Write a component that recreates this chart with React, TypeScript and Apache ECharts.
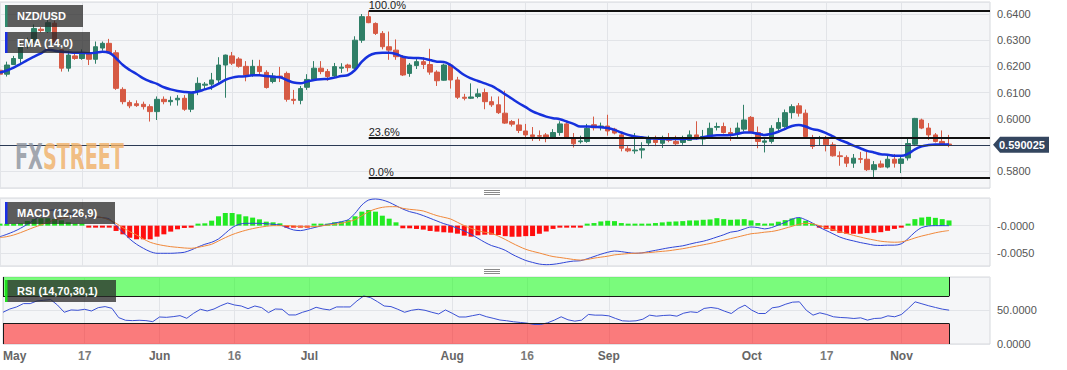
import React, { useEffect, useRef } from 'react';
import * as echarts from 'echarts';

// ---------- data ----------
const FIRST_DAY = '2023-05-01';
const DAY_COUNT = 146; // 140 trading days shown + 6 empty slots on the right

const tickDates = ['2023-05-01', '2023-05-17', '2023-06-01', '2023-06-16', '2023-07-03', '2023-08-01', '2023-08-16', '2023-09-01', '2023-10-02', '2023-10-17', '2023-11-01'];
const tickLabels = ['May', '17', 'Jun', '16', 'Jul', 'Aug', '16', 'Sep', 'Oct', '17', 'Nov'];

// [open, high, low, close]
const candles: number[][] = [
  [0.6185, 0.6192, 0.6163, 0.6170], [0.6170, 0.6218, 0.6161, 0.6205], [0.6207, 0.6240, 0.6205, 0.6230], [0.6230, 0.6294, 0.6205, 0.6275], [0.6275, 0.6310, 0.6268, 0.6300],
  [0.6300, 0.6360, 0.6290, 0.6345], [0.6342, 0.6350, 0.6330, 0.6337], [0.6333, 0.6380, 0.6328, 0.6367], [0.6365, 0.6375, 0.6285, 0.6290], [0.6263, 0.6275, 0.6180, 0.6193],
  [0.6193, 0.6260, 0.6180, 0.6243], [0.6240, 0.6255, 0.6225, 0.6230], [0.6230, 0.6265, 0.6225, 0.6247], [0.6250, 0.6255, 0.6205, 0.6227], [0.6227, 0.6295, 0.6210, 0.6275],
  [0.6270, 0.6295, 0.6260, 0.6288], [0.6288, 0.6305, 0.6250, 0.6252], [0.6252, 0.6262, 0.6110, 0.6116], [0.6112, 0.6120, 0.6055, 0.6065], [0.6062, 0.6070, 0.6040, 0.6049],
  [0.6057, 0.6070, 0.6045, 0.6050], [0.6055, 0.6065, 0.6035, 0.6046], [0.6046, 0.6055, 0.5989, 0.6027], [0.6027, 0.6085, 0.5995, 0.6074], [0.6074, 0.6085, 0.6055, 0.6065],
  [0.6065, 0.6085, 0.6050, 0.6070], [0.6072, 0.6090, 0.6050, 0.6078], [0.6078, 0.6090, 0.6030, 0.6036], [0.6036, 0.6100, 0.6025, 0.6097], [0.6104, 0.6158, 0.6090, 0.6135],
  [0.6128, 0.6140, 0.6110, 0.6132], [0.6132, 0.6175, 0.6110, 0.6148], [0.6148, 0.6235, 0.6135, 0.6205], [0.6205, 0.6245, 0.6080, 0.6243], [0.6240, 0.6255, 0.6205, 0.6212],
  [0.6228, 0.6235, 0.6195, 0.6200], [0.6200, 0.6220, 0.6143, 0.6167], [0.6167, 0.6225, 0.6160, 0.6200], [0.6200, 0.6225, 0.6170, 0.6180], [0.6177, 0.6185, 0.6115, 0.6119],
  [0.6142, 0.6175, 0.6135, 0.6163], [0.6163, 0.6198, 0.6140, 0.6158], [0.6173, 0.6180, 0.6065, 0.6074], [0.6074, 0.6110, 0.6055, 0.6070], [0.6070, 0.6125, 0.6055, 0.6115],
  [0.6120, 0.6170, 0.6110, 0.6150], [0.6150, 0.6220, 0.6145, 0.6193], [0.6193, 0.6220, 0.6170, 0.6180], [0.6180, 0.6190, 0.6145, 0.6161], [0.6163, 0.6213, 0.6155, 0.6199],
  [0.6193, 0.6212, 0.6175, 0.6197], [0.6205, 0.6210, 0.6180, 0.6195], [0.6193, 0.6315, 0.6185, 0.6300], [0.6300, 0.6400, 0.6290, 0.6390], [0.6390, 0.6411, 0.6365, 0.6367],
  [0.6364, 0.6368, 0.6320, 0.6326], [0.6326, 0.6335, 0.6265, 0.6275], [0.6275, 0.6333, 0.6225, 0.6262], [0.6262, 0.6303, 0.6225, 0.6237], [0.6235, 0.6243, 0.6163, 0.6167],
  [0.6173, 0.6213, 0.6160, 0.6205], [0.6203, 0.6228, 0.6190, 0.6218], [0.6218, 0.6235, 0.6190, 0.6207], [0.6207, 0.6267, 0.6168, 0.6178], [0.6178, 0.6185, 0.6125, 0.6145],
  [0.6147, 0.6210, 0.6145, 0.6205], [0.6205, 0.6210, 0.6115, 0.6148], [0.6148, 0.6160, 0.6075, 0.6082], [0.6082, 0.6095, 0.6070, 0.6078], [0.6078, 0.6135, 0.6075, 0.6083],
  [0.6085, 0.6115, 0.6078, 0.6095], [0.6100, 0.6115, 0.6036, 0.6065], [0.6065, 0.6085, 0.6045, 0.6053], [0.6053, 0.6085, 0.6018, 0.6023], [0.6021, 0.6107, 0.5980, 0.5983],
  [0.5989, 0.5995, 0.5970, 0.5979], [0.5976, 0.6000, 0.5945, 0.5955], [0.5953, 0.5980, 0.5930, 0.5938], [0.5938, 0.5968, 0.5915, 0.5932], [0.5935, 0.5955, 0.5915, 0.5933],
  [0.5938, 0.5945, 0.5910, 0.5930], [0.5930, 0.5960, 0.5925, 0.5947], [0.5947, 0.5990, 0.5935, 0.5980], [0.5980, 0.5985, 0.5925, 0.5930], [0.5926, 0.5945, 0.5890, 0.5904],
  [0.5912, 0.5935, 0.5905, 0.5915], [0.5913, 0.5980, 0.5908, 0.5963], [0.5977, 0.6008, 0.5955, 0.5965], [0.5968, 0.5985, 0.5955, 0.5972], [0.5972, 0.6015, 0.5935, 0.5953],
  [0.5960, 0.5965, 0.5940, 0.5945], [0.5938, 0.5945, 0.5875, 0.5887], [0.5885, 0.5895, 0.5872, 0.5877], [0.5877, 0.5945, 0.5866, 0.5880], [0.5880, 0.5910, 0.5848, 0.5885],
  [0.5907, 0.5935, 0.5895, 0.5925], [0.5919, 0.5935, 0.5895, 0.5909], [0.5906, 0.5935, 0.5888, 0.5922], [0.5922, 0.5945, 0.5910, 0.5917], [0.5913, 0.5935, 0.5897, 0.5904],
  [0.5909, 0.5935, 0.5900, 0.5919], [0.5917, 0.5955, 0.5915, 0.5938], [0.5938, 0.5990, 0.5919, 0.5930], [0.5922, 0.5957, 0.5900, 0.5932], [0.5934, 0.5985, 0.5930, 0.5963],
  [0.5967, 0.5985, 0.5955, 0.5970], [0.5970, 0.5985, 0.5943, 0.5947], [0.5947, 0.5965, 0.5915, 0.5938], [0.5944, 0.5985, 0.5930, 0.5964], [0.5960, 0.6053, 0.5951, 0.5995],
  [0.6005, 0.6010, 0.5945, 0.5951], [0.5947, 0.5970, 0.5887, 0.5913], [0.5910, 0.5925, 0.5871, 0.5915], [0.5913, 0.5975, 0.5905, 0.5963], [0.5963, 0.6003, 0.5950, 0.5985],
  [0.5970, 0.6035, 0.5965, 0.6023], [0.6023, 0.6055, 0.6000, 0.6046], [0.6049, 0.6060, 0.6008, 0.6021], [0.6021, 0.6035, 0.5928, 0.5932], [0.5925, 0.5938, 0.5884, 0.5894],
  [0.5924, 0.5934, 0.5896, 0.5926], [0.5925, 0.5934, 0.5875, 0.5900], [0.5900, 0.5910, 0.5855, 0.5858], [0.5858, 0.5875, 0.5820, 0.5855], [0.5852, 0.5860, 0.5815, 0.5830],
  [0.5830, 0.5865, 0.5812, 0.5849], [0.5847, 0.5873, 0.5830, 0.5845], [0.5845, 0.5875, 0.5800, 0.5805], [0.5805, 0.5838, 0.5775, 0.5824], [0.5827, 0.5840, 0.5812, 0.5815],
  [0.5815, 0.5862, 0.5810, 0.5845], [0.5845, 0.5865, 0.5813, 0.5830], [0.5829, 0.5858, 0.5792, 0.5846], [0.5850, 0.5925, 0.5840, 0.5905], [0.5902, 0.6003, 0.5895, 0.6001],
  [0.5995, 0.6000, 0.5960, 0.5964], [0.5964, 0.5983, 0.5919, 0.5938], [0.5938, 0.5945, 0.5909, 0.5913], [0.5913, 0.5955, 0.5904, 0.5904], [0.5903, 0.5938, 0.5891, 0.590025],
];

const ema14 = [
  0.6176, 0.6184, 0.6195, 0.6209, 0.6224, 0.6237, 0.6250, 0.6263, 0.6260, 0.6256,
  0.6254, 0.6252, 0.6252, 0.6250, 0.6252, 0.6256, 0.6252, 0.6231, 0.6205, 0.6186,
  0.6171, 0.6154, 0.6142, 0.6133, 0.6120, 0.6112, 0.6106, 0.6102, 0.6100, 0.6104,
  0.6112, 0.6120, 0.6133, 0.6148, 0.6157, 0.6161, 0.6162, 0.6166, 0.6166, 0.6163,
  0.6160, 0.6158, 0.6148, 0.6138, 0.6135, 0.6142, 0.6148, 0.6151, 0.6152, 0.6157,
  0.6163, 0.6167, 0.6186, 0.6218, 0.6240, 0.6250, 0.6252, 0.6252, 0.6247, 0.6237,
  0.6233, 0.6232, 0.6230, 0.6224, 0.6218, 0.6217, 0.6205, 0.6186, 0.6167, 0.6154,
  0.6144, 0.6135, 0.6125, 0.6110, 0.6093, 0.6076, 0.6059, 0.6044, 0.6028, 0.6017,
  0.6008, 0.6002, 0.5998, 0.5989, 0.5980, 0.5970, 0.5970, 0.5969, 0.5967, 0.5964,
  0.5957, 0.5947, 0.5938, 0.5932, 0.5929, 0.5925, 0.5924, 0.5923, 0.5922, 0.5922,
  0.5922, 0.5924, 0.5924, 0.5929, 0.5934, 0.5937, 0.5937, 0.5938, 0.5942, 0.5947,
  0.5947, 0.5942, 0.5938, 0.5942, 0.5950, 0.5961, 0.5972, 0.5976, 0.5970, 0.5960,
  0.5955, 0.5945, 0.5932, 0.5919, 0.5909, 0.5897, 0.5887, 0.5877, 0.5871, 0.5864,
  0.5862, 0.5858, 0.5858, 0.5866, 0.5883, 0.5894, 0.5899, 0.5901, 0.5901, 0.5901,
];

const macdLine = [
  -0.00199, -0.00157, -0.00108, -0.00048, 0.00024, 0.00102, 0.00193, 0.00271, 0.00283, 0.00253,
  0.00223, 0.00193, 0.00175, 0.00163, 0.00157, 0.00145, 0.0012, 0, -0.0012, -0.00241,
  -0.00337, -0.0041, -0.0047, -0.005, -0.005, -0.005, -0.00494, -0.00482, -0.0044, -0.00386,
  -0.00337, -0.00301, -0.00241, -0.00139, -0.00036, 0.00024, 0.00042, 0.00042, 0.00042, 0.00036,
  0.00024, 0.00012, -0.00036, -0.00078, -0.0009, -0.00066, -0.00036, -0.00006, 0.00024, 0.00048,
  0.00072, 0.00108, 0.00223, 0.00373, 0.00464, 0.00482, 0.00464, 0.00422, 0.00361, 0.00301,
  0.00253, 0.00223, 0.00181, 0.00133, 0.00084, 0.00036, 0, -0.00048, -0.00096, -0.00157,
  -0.00229, -0.00301, -0.00361, -0.00398, -0.00446, -0.00518, -0.00577, -0.0063, -0.00665, -0.00695,
  -0.00706, -0.007, -0.00682, -0.00659, -0.00641, -0.00635, -0.006, -0.00559, -0.00517, -0.00482,
  -0.00459, -0.0047, -0.00488, -0.005, -0.00494, -0.0047, -0.00447, -0.00423, -0.004, -0.00382,
  -0.00365, -0.00335, -0.00306, -0.00282, -0.00247, -0.00206, -0.00165, -0.00118, -0.001, -0.00059,
  -0.00024, -0.00035, -0.00059, -0.00035, 0.00012, 0.00059, 0.00118, 0.00147, 0.00106, 0.00047,
  -0.00029, -0.00088, -0.00147, -0.00206, -0.00247, -0.00276, -0.00306, -0.00329, -0.00353, -0.00359,
  -0.00353, -0.00353, -0.00329, -0.00235, -0.00118, -0.00035, -0.00006, 0, 0, 0,
];

const signalLine = [
  -0.00217, -0.00199, -0.00169, -0.00127, -0.00078, -0.0003, 0.00012, 0.0006, 0.00102, 0.00133,
  0.00157, 0.00175, 0.00181, 0.00175, 0.00163, 0.00145, 0.00102, 0.00042, -0.00036, -0.00108,
  -0.00169, -0.00241, -0.00301, -0.00337, -0.00361, -0.0038, -0.00392, -0.00404, -0.0041, -0.00392,
  -0.00367, -0.00337, -0.00277, -0.00217, -0.00163, -0.0012, -0.00084, -0.00054, -0.0003, -0.00012,
  0, 0, 0, -0.00006, -0.00018, -0.00018, -0.00018, -0.00006, 0.00012, 0.00024,
  0.00042, 0.00072, 0.00108, 0.0018, 0.00253, 0.00301, 0.00331, 0.00343, 0.00343, 0.00313,
  0.00295, 0.00283, 0.00265, 0.00223, 0.00181, 0.00151, 0.0012, 0.0006, 0, -0.00048,
  -0.0009, -0.0012, -0.00139, -0.0019, -0.0025, -0.00315, -0.00375, -0.00428, -0.00465, -0.00495,
  -0.00529, -0.00559, -0.00576, -0.00594, -0.00612, -0.00623, -0.00612, -0.00588, -0.0057, -0.00553,
  -0.00529, -0.00517, -0.00506, -0.005, -0.00494, -0.00488, -0.00476, -0.00465, -0.00453, -0.00435,
  -0.00417, -0.00394, -0.0037, -0.00347, -0.00323, -0.00294, -0.00265, -0.00235, -0.00206, -0.00176,
  -0.00147, -0.00135, -0.00118, -0.00106, -0.00082, -0.00047, -0.00012, 0.00024, 0.00041, 0.00035,
  0, -0.00035, -0.00071, -0.00106, -0.00141, -0.00176, -0.00206, -0.00235, -0.00259, -0.00282,
  -0.00294, -0.003, -0.00294, -0.00265, -0.00223, -0.00188, -0.00159, -0.00129, -0.00106, -0.00088,
];

const macdHist = [
  0, 0.00024, 0.00024, 0.00042, 0.00084, 0.0012, 0.00133, 0.00133, 0.0012, 0.00096,
  0.0006, 0.00024, 0, -0.00012, -0.00006, -0.00006, -0.00006, -0.00096, -0.00157, -0.00217,
  -0.00247, -0.00247, -0.00247, -0.00199, -0.00157, -0.00108, -0.00066, -0.00042, -0.00018, 0.00024,
  0.00042, 0.0009, 0.00169, 0.00229, 0.00229, 0.00205, 0.00169, 0.00145, 0.00114, 0.00072,
  0.0006, 0.00042, -0.00024, -0.00036, -0.0003, -0.00012, 0.00012, 0.00024, 0.00036, 0.0006,
  0.00072, 0.001, 0.00169, 0.00253, 0.00283, 0.00253, 0.0018, 0.00126, 0.0006, -0.00048,
  -0.00048, -0.0006, -0.00072, -0.00096, -0.00108, -0.0012, -0.00127, -0.00145, -0.00181, -0.002,
  -0.00175, -0.00163, -0.00163, -0.00169, -0.0019, -0.002, -0.002, -0.0019, -0.00188, -0.00147,
  -0.00106, -0.00059, -0.00018, -0.00018, -0.00012, -0.00012, 0.0003, 0.00047, 0.00076, 0.00088,
  0.00082, 0.00047, 0.00012, 0.00006, 0.00012, 0.00035, 0.00047, 0.00059, 0.00071, 0.00076,
  0.00082, 0.00094, 0.00094, 0.00106, 0.00112, 0.00135, 0.00118, 0.00106, 0.00112, 0.00118,
  0.00094, 0.00047, 0.0003, 0.00041, 0.00071, 0.001, 0.00129, 0.00141, 0.00088, 0.00012,
  -0.00029, -0.00059, -0.00094, -0.00129, -0.00147, -0.00147, -0.00147, -0.00135, -0.00129, -0.00118,
  -0.00094, -0.00059, -0.00035, 0.00018, 0.00118, 0.00147, 0.00159, 0.00141, 0.00118, 0.00094,
];

const rsi14 = [
  46.4, 51.2, 54.2, 59.1, 59.1, 63, 64, 65, 57, 46.4,
  49.8, 49.3, 50.8, 48.3, 53.2, 54.7, 52.2, 38.6, 34.7, 34.2,
  34.7, 34.2, 32.7, 39.5, 39, 40, 41.5, 37.6, 44.9, 50.8,
  48.3, 51.2, 56.1, 60, 57.1, 55.6, 51.7, 55.6, 53.2, 45.9,
  51.2, 50.8, 42.5, 42.5, 46.4, 49.3, 53.7, 51.2, 49.8, 54.2,
  54.2, 54.2, 63, 70.3, 67.8, 62, 55.6, 54.7, 50.8, 46.4,
  49.3, 50.8, 49.3, 46.4, 43.9, 49.8, 44.9, 39.5, 39.5, 41.5,
  43.4, 40, 37.6, 35.1, 34, 32.5, 31.5, 30.5, 28.5, 28.5,
  31, 34.9, 39.8, 35.4, 33.4, 34.9, 43.2, 42.2, 42.2, 41.2,
  37.3, 33.9, 33.4, 33.9, 36.3, 42.2, 40.7, 41.7, 42.2, 40.7,
  45.1, 47.1, 46.1, 52, 53.4, 52, 48, 44.6, 52, 56.8,
  49.5, 44.6, 44.6, 52.9, 54.4, 58.3, 61.2, 61.7, 49.5, 42.2,
  45.6, 43.2, 39.8, 38.8, 38.3, 37.3, 38.3, 34.9, 37.3, 37.8,
  41.2, 39.8, 43.2, 52, 61.7, 58.8, 55.9, 53.4, 51, 49.5,
];

const fibLevels = [0.6411, 0.5926, 0.5775];
const fibLabels = ['100.0%', '23.6%', '0.0%'];
const fibStartDate = '2023-07-14';
const lastPrice = 0.590025;
const rsiBands = { upper: 70, lower: 30, top: 98, bottom: 0 };

// ---------- helpers ----------
function buildWeekdays(start: string, count: number): string[] {
  const out: string[] = [];
  const d = new Date(start + 'T00:00:00Z');
  while (out.length < count) {
    const wd = d.getUTCDay();
    if (wd !== 0 && wd !== 6) out.push(d.toISOString().slice(0, 10));
    d.setUTCDate(d.getUTCDate() + 1);
  }
  return out;
}

function measure(text: string, font: string): number {
  const ctx = document.createElement('canvas').getContext('2d');
  if (!ctx) return text.length * 20;
  ctx.font = font;
  return ctx.measureText(text).width;
}

const FONT = 'Arial, "Liberation Sans", sans-serif';
const GREEN = '#2f7f67';
const RED = '#d65a44';

export default function App() {
  const ref = useRef<HTMLDivElement>(null);

  useEffect(() => {
    if (!ref.current) return;
    const chart = echarts.init(ref.current, null, { renderer: 'svg', width: 1067, height: 370 });
    const categories = buildWeekdays(FIRST_DAY, DAY_COUNT);
    const lastIdx = candles.length - 1;
    const cFirst = categories[0];
    const cLast = categories[lastIdx];
    const cEnd = categories[categories.length - 1];
    const tickSet = new Set(tickDates);
    const labelOf: Record<string, string> = {};
    tickDates.forEach((d, k) => (labelOf[d] = tickLabels[k]));

    const gridStyle = { show: true, backgroundColor: '#f5f6f8', borderColor: '#d6d9dd', borderWidth: 1, left: 0, width: 990 };
    const grids = [
      { ...gridStyle, top: 2, height: 186 },
      { ...gridStyle, top: 198, height: 68 },
      { ...gridStyle, top: 277, height: 67 },
    ];

    const xAxes = [0, 1, 2].map((g) => ({
      type: 'category',
      gridIndex: g,
      data: categories,
      boundaryGap: false,
      axisLine: { show: false },
      axisTick: { show: false },
      splitLine: { show: true, interval: (_i: number, v: string) => tickSet.has(v), lineStyle: { color: '#e2e4e8', width: 1 } },
      axisLabel: g === 2
        ? {
            show: true,
            interval: (_i: number, v: string) => tickSet.has(v),
            formatter: (v: string) => {
              const t = labelOf[v] || '';
              return /^[A-Za-z]/.test(t) ? `{m|${t}}` : `{d|${t}}`;
            },
            alignMinLabel: 'left',
            margin: 6,
            rich: {
              m: { fontWeight: 'bold', fontSize: 12, color: '#666', fontFamily: FONT },
              d: { fontWeight: 'bold', fontSize: 12, color: '#7a7a7a', fontFamily: FONT },
            },
          }
        : { show: false },
    }));

    const yLabel = { color: '#555', fontSize: 11, fontFamily: FONT, margin: 7, showMinLabel: false, showMaxLabel: false };
    const yAxes = [
      {
        type: 'value', gridIndex: 0, position: 'right', min: 0.5735, max: 0.6446, splitNumber: 7,
        axisLine: { show: false }, axisTick: { show: false },
        // the label next to the last-price tag is covered by the tag, as in the original
        axisLabel: { ...yLabel, formatter: (v: number) => (Math.abs(v - lastPrice) < 0.003 ? '' : v.toFixed(4)) },
        splitLine: { lineStyle: { color: '#e2e4e8' } },
      },
      {
        type: 'value', gridIndex: 1, position: 'right', min: -0.0073, max: 0.005, splitNumber: 2,
        axisLine: { show: false }, axisTick: { show: false },
        axisLabel: { ...yLabel, formatter: (v: number) => (v <= 0 ? '-' : '') + Math.abs(v).toFixed(4) },
        splitLine: { lineStyle: { color: '#e2e4e8' } },
      },
      {
        type: 'value', gridIndex: 2, position: 'right', min: rsiBands.bottom, max: rsiBands.top, interval: 50,
        axisLine: { show: false }, axisTick: { show: false },
        axisLabel: { ...yLabel, showMinLabel: true, formatter: (v: number) => v.toFixed(4) },
        splitLine: { lineStyle: { color: '#e2e4e8' } },
      },
    ];

    const option: any = {
      animation: false,
      backgroundColor: '#ffffff',
      textStyle: { fontFamily: FONT },
      grid: grids,
      xAxis: xAxes,
      yAxis: yAxes,
      series: [
        {
          type: 'candlestick', name: 'NZD/USD', xAxisIndex: 0, yAxisIndex: 0,
          data: candles.map(([o, h, l, c]) => [o, c, l, h]),
          barWidth: 5,
          itemStyle: { color: GREEN, color0: RED, borderColor: GREEN, borderColor0: RED, borderWidth: 1 },
          markLine: {
            silent: true, symbol: ['none', 'none'], animation: false,
            data: [
              ...fibLevels.map((v, k) => [
                {
                  coord: [fibStartDate, v],
                  lineStyle: { color: '#111', width: 2, type: 'solid' },
                  label: { show: true, position: 'insideStartTop', formatter: fibLabels[k], color: '#222', fontSize: 11, lineHeight: 10, fontFamily: FONT, distance: [0, 1] },
                },
                { coord: [cEnd, v] },
              ]),
              { yAxis: lastPrice, lineStyle: { color: '#2b3a55', width: 1, type: 'solid' }, label: { show: false } },
            ],
          },
        },
        {
          type: 'line', name: 'EMA (14,0)', xAxisIndex: 0, yAxisIndex: 0, data: ema14,
          symbol: 'none', smooth: 0.4, lineStyle: { color: '#1631dd', width: 2.5 }, z: 3,
        },
        {
          type: 'bar', name: 'hist', xAxisIndex: 1, yAxisIndex: 1, barWidth: 5, barMinHeight: 2,
          data: macdHist.map((v) => ({ value: v, itemStyle: { color: v >= 0 ? '#22ea22' : '#ff0e0e' } })),
        },
        {
          type: 'line', name: 'MACD', xAxisIndex: 1, yAxisIndex: 1, data: macdLine,
          symbol: 'none', smooth: 0.3, lineStyle: { color: '#2f45d6', width: 1 }, z: 3,
        },
        {
          type: 'line', name: 'Signal', xAxisIndex: 1, yAxisIndex: 1, data: signalLine,
          symbol: 'none', smooth: 0.3, lineStyle: { color: '#f0883a', width: 1 }, z: 3,
        },
        {
          type: 'line', name: 'RSI', xAxisIndex: 2, yAxisIndex: 2, data: rsi14,
          symbol: 'none', lineStyle: { color: '#3a50d4', width: 1 }, z: 2,
        },
        {
          type: 'line', name: 'bands', xAxisIndex: 2, yAxisIndex: 2, data: rsi14,
          symbol: 'none', lineStyle: { opacity: 0 }, z: 4, silent: true,
          markArea: {
            silent: true,
            data: [
              [{ coord: [cFirst, rsiBands.upper], itemStyle: { color: 'rgba(0,255,0,0.5)' } }, { coord: [cLast, rsiBands.top] }],
              [{ coord: [cFirst, rsiBands.bottom], itemStyle: { color: 'rgba(255,0,0,0.5)' } }, { coord: [cLast, rsiBands.lower] }],
            ],
          },
          markLine: {
            silent: true, symbol: ['none', 'none'],
            lineStyle: { color: '#1a1a1a', width: 1, type: 'solid' },
            label: { show: false },
            data: [
              [{ coord: [cFirst, rsiBands.upper] }, { coord: [cLast, rsiBands.upper] }],
              [{ coord: [cFirst, rsiBands.lower] }, { coord: [cLast, rsiBands.lower] }],
              [{ coord: [cLast, rsiBands.upper] }, { coord: [cLast, rsiBands.top] }],
              [{ coord: [cLast, rsiBands.bottom] }, { coord: [cLast, rsiBands.lower] }],
              [{ coord: [cFirst, rsiBands.upper] }, { coord: [cFirst, rsiBands.top] }],
              [{ coord: [cFirst, rsiBands.bottom] }, { coord: [cFirst, rsiBands.lower] }],
            ],
          },
        },
      ],
    };

    chart.setOption(option);

    // ---- overlay graphics ----
    const tagY = chart.convertToPixel({ yAxisIndex: 0 }, lastPrice) as number;
    const Z = 100;
    const legendBox = (id: string, text: string, x: number, y: number, w: number, h: number, bar: string) => ({
      type: 'group', id, x, y, z: Z,
      children: [
        { type: 'rect', z: Z, shape: { x: 0, y: 0, width: w, height: h }, style: { fill: 'rgba(40,40,40,0.75)' } },
        { type: 'rect', z: Z + 1, shape: { x: 0, y: 0, width: 2.5, height: h }, style: { fill: bar } },
        { type: 'text', z: Z + 2, x: 12, y: h / 2, style: { text, fill: '#fff', font: `bold 11px ${FONT}`, verticalAlign: 'middle', align: 'left' } },
      ],
    });

    const wmFont = 'bold 36px "DejaVu Sans Condensed", "DejaVu Sans", sans-serif';
    const fxW = measure('FX', wmFont);
    const allW = measure('FXSTREET', wmFont);
    const wmScale = 109 / allW;

    const handle = (id: string, y: number) => ({
      type: 'group', id, x: 484, y, z: Z,
      children: [0, 2, 4].map((dy) => ({ type: 'line', z: Z, shape: { x1: 0, y1: dy, x2: 16, y2: dy }, style: { stroke: '#8a8a8a', lineWidth: 1 } })),
    });

    chart.setOption({
      graphic: [
        {
          type: 'group', id: 'wm', x: 15, y: 157, scaleX: wmScale, z: 50, silent: true,
          children: [
            { type: 'text', z: 50, x: 0, y: 0, style: { text: 'FX', fill: 'rgba(140,145,155,0.8)', font: wmFont, verticalAlign: 'middle' } },
            { type: 'text', z: 50, x: fxW, y: 0, style: { text: 'STREET', fill: 'rgba(240,175,100,0.8)', font: wmFont, verticalAlign: 'middle' } },
          ],
        },
        legendBox('lg1', 'NZD/USD', 5, 5, 78, 22, '#2e8b6e'),
        legendBox('lg2', 'EMA (14,0)', 5, 32, 85, 21, '#1a2fe6'),
        legendBox('lg3', 'MACD (12,26,9)', 5, 202, 110, 22, '#1a2fe6'),
        legendBox('lg4', 'RSI (14,70,30,1)', 5, 280, 111, 22, '#1ee01e'),
        handle('h1', 190.5),
        handle('h2', 269.5),
        {
          type: 'polygon', id: 'tag', z: Z,
          shape: { points: [[993, tagY], [1000, tagY - 8], [1049, tagY - 8], [1049, tagY + 8], [1000, tagY + 8]] },
          style: { fill: '#34465f' },
        },
        {
          type: 'text', id: 'tagText', z: Z + 1, x: 999, y: tagY,
          style: { text: lastPrice.toFixed(6), fill: '#fff', font: `bold 11px ${FONT}`, verticalAlign: 'middle', align: 'left' },
        },
      ],
    });

    return () => chart.dispose();
  }, []);

  return <div ref={ref} style={{ position: 'absolute', left: 0, top: 0, width: 1067, height: 370, background: '#fff' }} />;
}
